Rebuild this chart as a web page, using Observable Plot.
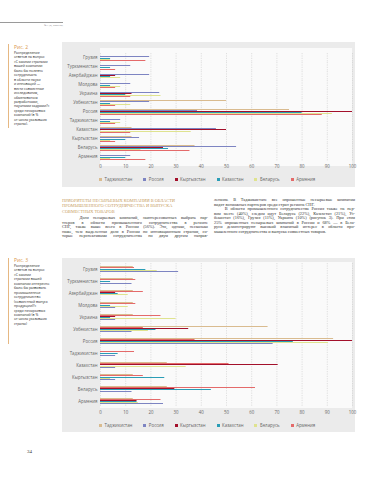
<!DOCTYPE html>
<html><head><meta charset="utf-8">
<script src="https://cdn.jsdelivr.net/npm/d3@7"></script>
<script src="https://cdn.jsdelivr.net/npm/@observablehq/plot@0.6"></script>
<style>
html,body{margin:0;padding:0;background:#fff;}
#page{position:relative;width:387px;height:480px;overflow:hidden;font-family:"Open Sans",sans-serif;}
.abs{position:absolute;}
.cap{font-family:"Open Sans",sans-serif;font-size:3.4px;line-height:4.45px;color:#222;white-space:nowrap;}
.fig{font-family:"Open Sans",sans-serif;font-size:5px;color:#d9964a;}
.panel{background:#ebebeb;}
.inner{background:#fafafa;}
.legend{display:flex;gap:11px;font-family:"Open Sans",sans-serif;font-size:4.4px;color:#666;white-space:nowrap;align-items:center;}
.legend span.sw{display:inline-block;width:3px;height:3px;margin-right:2.5px;vertical-align:middle;}
.body{font-family:"Liberation Serif",serif;font-size:4.3px;line-height:4.5px;color:#333;}
.body div{text-align:justify;text-align-last:justify;white-space:nowrap;}
.body div.last{text-align-last:left;}
.head{font-family:"Liberation Serif",serif;font-size:4.4px;line-height:5.4px;color:#c79d62;white-space:nowrap;}
</style></head>
<body><div id="page">
<div class="abs" style="left:0;top:22px;width:63px;height:0.6px;background:#9a9a9a"></div>
<div class="abs" style="left:30px;top:23px;width:33px;text-align:right;font-size:2.4px;color:#888">№ 1 (3), 2020 год</div>

<div class="abs" style="left:8px;top:44px;width:0.7px;height:84px;background:#e6b883"></div>
<div class="abs fig" style="left:14px;top:44px">Рис. 2</div>
<div class="abs cap" style="left:14px;top:51px">Распределение<br>ответов на вопрос<br>«С какими странами<br>вашей компании<br>было бы полезно<br>сотрудничать<br>в области науки<br>и инноваций —<br>вести совместные<br>исследования,<br>обмениваться<br>разработками,<br>научными кадрами?»<br>среди несырьевых<br>компаний (в %<br>от числа указавших<br>страны).</div>

<div class="abs panel" style="left:62px;top:42px;width:293px;height:145px"></div>
<div class="abs inner" style="left:100px;top:48px;width:252px;height:118px"></div>
<div class="abs" id="c1" style="left:62px;top:42px"></div>
<div class="abs legend" id="l1" style="left:99px;top:176px"></div>

<div class="abs head" style="left:62px;top:198px">ПРИОРИТЕТЫ НЕСЫРЬЕВЫХ КОМПАНИЙ В ОБЛАСТИ<br>ПРОМЫШЛЕННОГО СОТРУДНИЧЕСТВА И ВЫПУСКА<br>СОВМЕСТНЫХ ТОВАРОВ</div>
<div class="abs body" style="left:62px;top:216px;width:146px">
<div>&nbsp;&nbsp;&nbsp;&nbsp;Доля несырьевых компаний, заинтересованных выбрать пар-</div>
<div>тнеров в области промышленного сотрудничества в регионе</div>
<div>СНГ, также выше всего в России (56%). Это, однако, несколько</div>
<div>ниже, чем выделенная доля в России по инновационным странам, со-</div>
<div>торые перспективами сотрудничества по двум другим направ-</div>
</div>
<div class="abs body" style="left:214px;top:198px;width:141px">
<div>лениям. В Таджикистане все опрошенные несырьевые компании</div>
<div class="last">видят возможных партнеров среди стран региона СНГ.</div>
<div>&nbsp;&nbsp;&nbsp;&nbsp;В области промышленного сотрудничества Россия также на пер-</div>
<div>вом месте (40%), следом идут Беларусь (22%), Казахстан (21%), Уз-</div>
<div>бекистан (16%), Грузия (11%), Украина (10%) (рисунок 3). При этом</div>
<div>25% опрошенных несырьевых компаний в России и 68% — в Бела-</div>
<div>руси демонстрируют высокий взаимный интерес в области про-</div>
<div class="last">мышленного сотрудничества и выпуска совместных товаров.</div>
</div>

<div class="abs" style="left:8px;top:258px;width:0.7px;height:86px;background:#e6b883"></div>
<div class="abs fig" style="left:14px;top:257px">Рис. 3</div>
<div class="abs cap" style="left:14px;top:264px">Распределение<br>ответов на вопрос<br>«С какими<br>странами вашей<br>компании интересно<br>было бы развивать<br>промышленное<br>сотрудничество<br>(совместный выпуск<br>продукции)?»<br>среди несырьевых<br>компаний (в %<br>от числа указавших<br>страны)</div>

<div class="abs panel" style="left:62px;top:258px;width:293px;height:174px"></div>
<div class="abs inner" style="left:100px;top:262px;width:252px;height:146px"></div>
<div class="abs" id="c2" style="left:62px;top:258px"></div>
<div class="abs legend" id="l2" style="left:99px;top:422px"></div>

<div class="abs" style="left:27px;top:449px;font-family:'Liberation Serif',serif;font-size:5px;color:#333">34</div>
</div>
<script>
const countries = ["Грузия","Туркменистан","Азербайджан","Молдова","Украина","Узбекистан","Россия","Таджикистан","Казахстан","Кыргызстан","Беларусь","Армения"];
const series = ["Таджикистан","Россия","Кыргызстан","Казахстан","Беларусь","Армения"];
const seriesColors = ["#d9bb8f","#7d84c2","#a3102b","#2a9db6","#dfe38f","#e46a6a"];
const xTicks = [0,10,20,30,40,50,60,70,80,90,100];

// Рис. 2 — values per series, in countries order
const fig2Order = ["Таджикистан","Россия","Кыргызстан","Казахстан","Беларусь","Армения"];
const fig2Tadj = [0,0,0,0,0,50,75,0,12.5,12.5,37.5,0];
const fig2Ross = [19.5,12,19.5,12,23.5,19.5,38.5,8,46,15.5,54,12];
const fig2Kyrg = [0,0,6,0,12.5,0,100,0,50,0,25,0];
const fig2Kaz  = [4,4,4,4,10,4,80,4,0,10,27,10];
const fig2Bel  = [4,0,8,8,24,12,92,8,36,4,16,4];
const fig2Arm  = [18,6,0,6,12,6,88,6,12,6,35.5,18];

// Рис. 3
const fig3Order = ["Таджикистан","Армения","Кыргызстан","Казахстан","Беларусь","Россия"];
const fig3Tadj = [13,13,13,13,13,66.5,92.5,0,26.5,13,26.5,13];
const fig3Arm  = [13.5,14,17,14,24,17,37.5,13.5,51,17,61.5,24];
const fig3Kyrg = [0,0,6,0,6,35,100,0,70.5,0,29.5,14.5];
const fig3Kaz  = [18,4,7,4,4,22,76.5,7,0,25.5,44,14.5];
const fig3Bel  = [22.5,0,11,11,30,19,90.5,0,34,4,0,15];
const fig3Ross = [31,12.5,0,6,6,12.5,68.5,6,6,6,12.5,25];

function build(valuesBySeries, order, height, mt, mb, po){
  const data = [];
  for (const s of order) countries.forEach((c,i)=>data.push({country:c, series:s, value:valuesBySeries[s][i]}));
  return Plot.plot({
    width: 293, height, marginLeft: 38, marginRight: 3, marginTop: mt, marginBottom: mb,
    style: {fontFamily:"'Open Sans',sans-serif", fontSize:"4.4px", color:"#666", background:"transparent", overflow:"visible"},
    x: {domain:[0,100], ticks: xTicks, tickSize:0, tickPadding:3, label:null},
    fy: {domain: countries, label:null, padding:0, tickSize:0, tickPadding:3, axis:"left"},
    y: {domain: order, axis:null, paddingInner:0.06, paddingOuter:po},
    color: {domain: series, range: seriesColors},
    marks: [
      Plot.ruleX(xTicks, {stroke:"#c4c4c4", strokeWidth:0.5, strokeDasharray:"1.2,1.2"}),
      Plot.barX(data, {x:"value", y:"series", fy:"country", fill:"series"})
    ]
  });
}

document.getElementById("c1").append(build(
  {"Таджикистан":fig2Tadj,"Россия":fig2Ross,"Кыргызстан":fig2Kyrg,"Казахстан":fig2Kaz,"Беларусь":fig2Bel,"Армения":fig2Arm},
  fig2Order, 138, 6, 14, 0.2));
document.getElementById("c2").append(build(
  {"Таджикистан":fig3Tadj,"Россия":fig3Ross,"Кыргызстан":fig3Kyrg,"Казахстан":fig3Kaz,"Беларусь":fig3Bel,"Армения":fig3Arm},
  fig3Order, 163, 4, 13, 0.8));

for (const id of ["l1","l2"]) {
  const el = document.getElementById(id);
  series.forEach((s,i)=>{
    const it = document.createElement("div");
    it.innerHTML = `<span class="sw" style="background:${seriesColors[i]}"></span>${s}`;
    el.append(it);
  });
}
</script>
</body></html>
